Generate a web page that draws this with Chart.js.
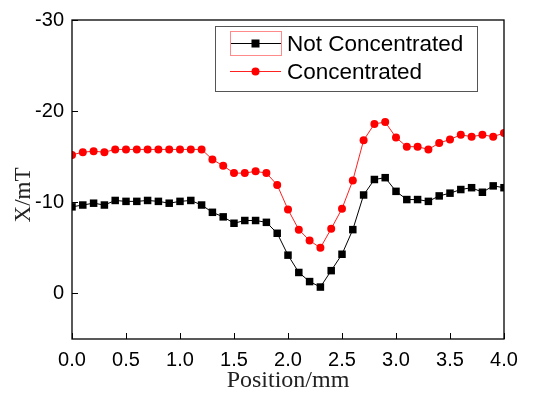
<!DOCTYPE html>
<html>
<head>
<meta charset="utf-8">
<script src="https://cdn.jsdelivr.net/npm/chart.js@4.4.1/dist/chart.umd.min.js"></script>
<style>
  html, body { margin: 0; padding: 0; background: #fff; }
  #wrap { width: 534px; height: 395px; }
</style>
</head>
<body>
<div id="wrap"><canvas id="grafico"></canvas></div>
<script>
// posições de medição (mm)
const posicoes = [0.0, 0.1, 0.2, 0.3, 0.4, 0.5, 0.6, 0.7, 0.8, 0.9,
                  1.0, 1.1, 1.2, 1.3, 1.4, 1.5, 1.6, 1.7, 1.8, 1.9,
                  2.0, 2.1, 2.2, 2.3, 2.4, 2.5, 2.6, 2.7, 2.8, 2.9,
                  3.0, 3.1, 3.2, 3.3, 3.4, 3.5, 3.6, 3.7, 3.8, 3.9, 4.0];

// campo X (mT) sem concentrador
const naoConcentrado = [-9.5, -9.7, -9.9, -9.7, -10.2, -10.1, -10.1, -10.2, -10.1, -9.9,
                        -10.1, -10.2, -9.7, -8.9, -8.4, -7.7, -8.0, -8.0, -7.8, -6.6,
                        -4.2, -2.3, -1.3, -0.7, -2.5, -4.3, -7.0, -10.8, -12.5, -12.7,
                        -11.2, -10.3, -10.3, -10.1, -10.7, -11.0, -11.4, -11.6, -11.1, -11.8, -11.6];

// campo X (mT) com concentrador
const concentrado = [-15.2, -15.5, -15.6, -15.5, -15.8, -15.8, -15.8, -15.8, -15.8, -15.8,
                     -15.8, -15.8, -15.8, -14.7, -14.0, -13.2, -13.2, -13.4, -13.2, -11.9,
                     -9.2, -7.0, -5.8, -5.0, -7.1, -9.3, -12.4, -16.8, -18.6, -18.8,
                     -17.1, -16.1, -16.1, -15.8, -16.5, -16.9, -17.4, -17.2, -17.4, -17.2, -17.6];

const nomesSeries = ['Not Concentrated', 'Concentrated'];
const ticksY = [-30, -20, -10, 0];
const tituloX = 'Position/mm';
const tituloY = 'X/mT';

const pontos = valores => posicoes.map((p, i) => ({ x: p, y: valores[i] }));

// moldura + marcas internas dos eixos
const molduraPlugin = {
    id: 'moldura',
    afterDraw(chart) {
        const { ctx, chartArea: a, scales } = chart;
        ctx.save();
        ctx.strokeStyle = '#000';
        ctx.lineWidth = 1.3;
        ctx.strokeRect(a.left, a.top, a.right - a.left, a.bottom - a.top);
        ctx.lineWidth = 1;
        ctx.beginPath();
        scales.x.ticks.forEach(t => {
            const px = Math.round(scales.x.getPixelForValue(t.value)) + 0.5;
            ctx.moveTo(px, a.bottom);
            ctx.lineTo(px, a.bottom - 6);
        });
        scales.y.ticks.forEach(t => {
            const py = Math.round(scales.y.getPixelForValue(t.value)) + 0.5;
            ctx.moveTo(a.left, py);
            ctx.lineTo(a.left + 6, py);
        });
        ctx.stroke();

        // título do eixo Y
        ctx.fillStyle = '#222';
        ctx.font = '23px "Liberation Serif"';
        ctx.textAlign = 'center';
        ctx.textBaseline = 'middle';
        ctx.translate(24, 195);
        ctx.rotate(-Math.PI / 2);
        ctx.fillText(tituloY, 0, 0);
        ctx.restore();
    }
};

// legenda desenhada dentro da área do gráfico
const legendaPlugin = {
    id: 'legendaCaixa',
    afterDraw(chart) {
        const { ctx } = chart;
        ctx.save();
        ctx.fillStyle = '#fff';
        ctx.fillRect(215.5, 26.5, 262, 65);
        ctx.strokeStyle = '#555';
        ctx.lineWidth = 1;
        ctx.strokeRect(215.5, 26.5, 262, 65);

        const linhas = [43.5, 71.5];
        chart.data.datasets.forEach((ds, i) => {
            const y = linhas[i];
            ctx.strokeStyle = ds.borderColor;
            ctx.lineWidth = 1;
            ctx.beginPath();
            ctx.moveTo(230, y);
            ctx.lineTo(281, y);
            ctx.stroke();
            ctx.fillStyle = ds.pointBackgroundColor;
            if (ds.pointStyle === 'rect') {
                ctx.fillRect(255.5 - 4, y - 4, 8, 8);
            } else {
                ctx.beginPath();
                ctx.arc(255.5, y, 4, 0, Math.PI * 2);
                ctx.fill();
            }
            ctx.fillStyle = '#000';
            ctx.font = '22.5px "Liberation Sans"';
            ctx.textAlign = 'left';
            ctx.textBaseline = 'middle';
            ctx.fillText(ds.label, 287, y + 1);
        });
        // realce em volta da primeira amostra
        ctx.strokeStyle = '#ff8a8a';
        ctx.strokeRect(230.5, 31.5, 51, 24);
        ctx.restore();
    }
};

new Chart(document.getElementById('grafico'), {
    type: 'line',
    data: {
        datasets: [
            {
                label: nomesSeries[0],
                data: pontos(naoConcentrado),
                borderColor: '#000',
                borderWidth: 1,
                pointStyle: 'rect',
                pointRadius: 5.3,
                pointBackgroundColor: '#000',
                pointBorderWidth: 0,
                clip: 0
            },
            {
                label: nomesSeries[1],
                data: pontos(concentrado),
                borderColor: '#ff2020',
                borderWidth: 1,
                pointStyle: 'circle',
                pointRadius: 4,
                pointBackgroundColor: '#ff0000',
                pointBorderWidth: 0,
                clip: 0
            }
        ]
    },
    options: {
        responsive: true,
        maintainAspectRatio: false,
        animation: false,
        layout: { padding: { top: 19, right: 30, left: 0, bottom: 0 } },
        plugins: {
            legend: { display: false },
            tooltip: { enabled: false }
        },
        scales: {
            x: {
                type: 'linear',
                min: 0,
                max: 4,
                grid: { display: false, drawTicks: false },
                border: { display: false },
                ticks: {
                    stepSize: 0.5,
                    padding: 9,
                    color: '#000',
                    font: { family: 'Liberation Sans', size: 20 },
                    callback: v => v.toFixed(1)
                },
                title: {
                    display: true,
                    text: tituloX,
                    color: '#222',
                    padding: 0,
                    font: { family: 'Liberation Serif', size: 24 }
                },
                afterFit: s => { s.height = 56; }
            },
            y: {
                type: 'linear',
                min: -30,
                max: 5,
                reverse: true,
                grid: { display: false, drawTicks: false },
                border: { display: false },
                ticks: {
                    stepSize: 10,
                    padding: 8,
                    color: '#000',
                    font: { family: 'Liberation Sans', size: 20 }
                },
                afterBuildTicks: s => {
                    s.ticks = s.ticks.filter(t => ticksY.includes(t.value));
                },
                afterFit: s => { s.width = 72; }
            }
        }
    },
    plugins: [molduraPlugin, legendaPlugin]
});
</script>
</body>
</html>
